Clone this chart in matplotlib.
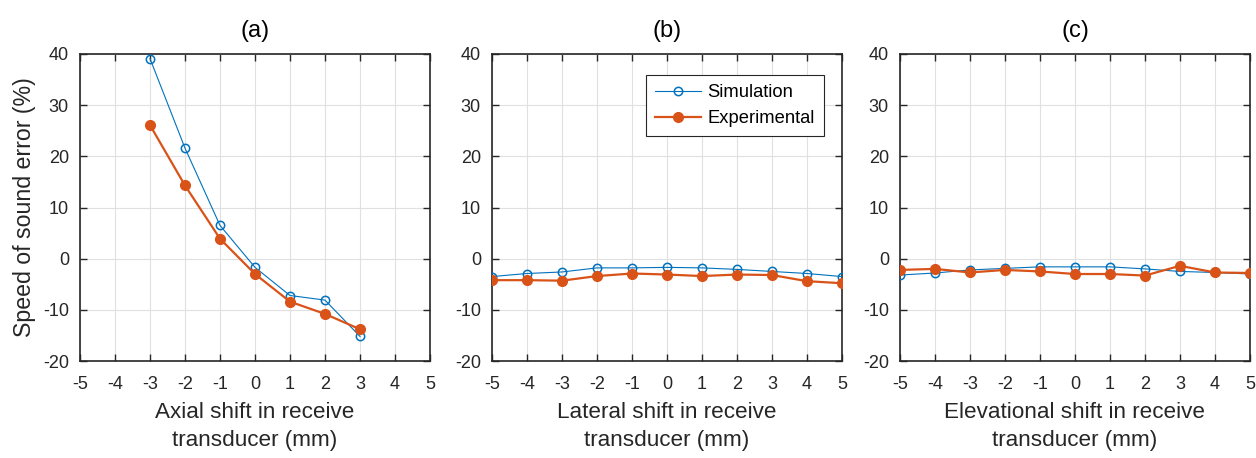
import numpy as np
import matplotlib
matplotlib.use('Agg')
import matplotlib.pyplot as plt

plt.rcParams['font.family'] = ['Liberation Sans', 'DejaVu Sans']
plt.rcParams['axes.unicode_minus'] = False

# data
axial_x = [-3, -2, -1, 0, 1, 2, 3]
axial_sim = [39.1, 21.6, 6.5, -1.7, -7.2, -8.1, -15.2]
axial_exp = [26.1, 14.3, 3.9, -3.0, -8.4, -10.8, -13.8]

lateral_x = [-5, -4, -3, -2, -1, 0, 1, 2, 3, 4, 5]
lateral_sim = [-3.5, -2.9, -2.6, -1.8, -1.8, -1.7, -1.8, -2.1, -2.5, -2.9, -3.5]
lateral_exp = [-4.2, -4.2, -4.3, -3.4, -2.9, -3.1, -3.4, -3.1, -3.2, -4.4, -4.8]

elev_x = [-5, -4, -3, -2, -1, 0, 1, 2, 3, 4, 5]
elev_sim = [-3.2, -2.8, -2.2, -1.9, -1.6, -1.6, -1.6, -2.0, -2.5, -2.7, -3.0]
elev_exp = [-2.2, -2.0, -2.7, -2.2, -2.5, -3.0, -3.0, -3.3, -1.4, -2.7, -2.8]

titles = ['(a)', '(b)', '(c)']
xlabels = ['Axial shift in receive\ntransducer (mm)',
           'Lateral shift in receive\ntransducer (mm)',
           'Elevational shift in receive\ntransducer (mm)']

blue = '#0072BD'
orange = '#D95319'
axcol = '#262626'

fig = plt.figure(figsize=(12.56, 4.58), dpi=100)
lefts = [80, 492, 900]
axes = [fig.add_axes([l / 1256, 97 / 458, 350 / 1256, 307 / 458]) for l in lefts]

data = [(axial_x, axial_sim, axial_exp),
        (lateral_x, lateral_sim, lateral_exp),
        (elev_x, elev_sim, elev_exp)]

for i, (ax, (x, s, e)) in enumerate(zip(axes, data)):
  ax.plot(x, s, '-o', color=blue, lw=0.8, ms=6, mfc='none', mew=1.1,
          label='Simulation', zorder=3)
  ax.plot(x, e, '-o', color=orange, lw=1.6, ms=7, mfc=orange, mec=orange,
          label='Experimental', zorder=4)
  ax.set_xlim(-5, 5)
  ax.set_ylim(-20, 40)
  ax.set_xticks(range(-5, 6))
  ax.set_yticks(range(-20, 41, 10))
  ax.grid(True, color='#e0e0e0', lw=0.8)
  ax.set_axisbelow(True)
  ax.tick_params(direction='in', top=True, right=True, labelsize=13,
                 colors=axcol, length=5, width=1.0)
  ax.tick_params(axis='x', pad=11)
  ax.tick_params(axis='y', pad=8)
  for sp in ax.spines.values():
    sp.set_color(axcol)
    sp.set_linewidth(1.2)
  ax.set_title(titles[i], fontsize=17, color='black', pad=12)
  ax.set_xlabel(xlabels[i], fontsize=16.2, color=axcol, labelpad=6,
                linespacing=1.45)
  if i == 0:
    ax.set_ylabel('Speed of sound error (%)', fontsize=16.7, color=axcol,
                  labelpad=5)

leg = axes[1].legend(loc='upper left', bbox_to_anchor=(0.44, 0.932),
                     fontsize=13.2, fancybox=False, framealpha=1,
                     edgecolor=axcol, handlelength=2.5, borderpad=0.5,
                     labelspacing=0.5, handletextpad=0.35,
                     borderaxespad=0)
leg.get_frame().set_linewidth(0.8)

fig.savefig('out.png', dpi=100)
